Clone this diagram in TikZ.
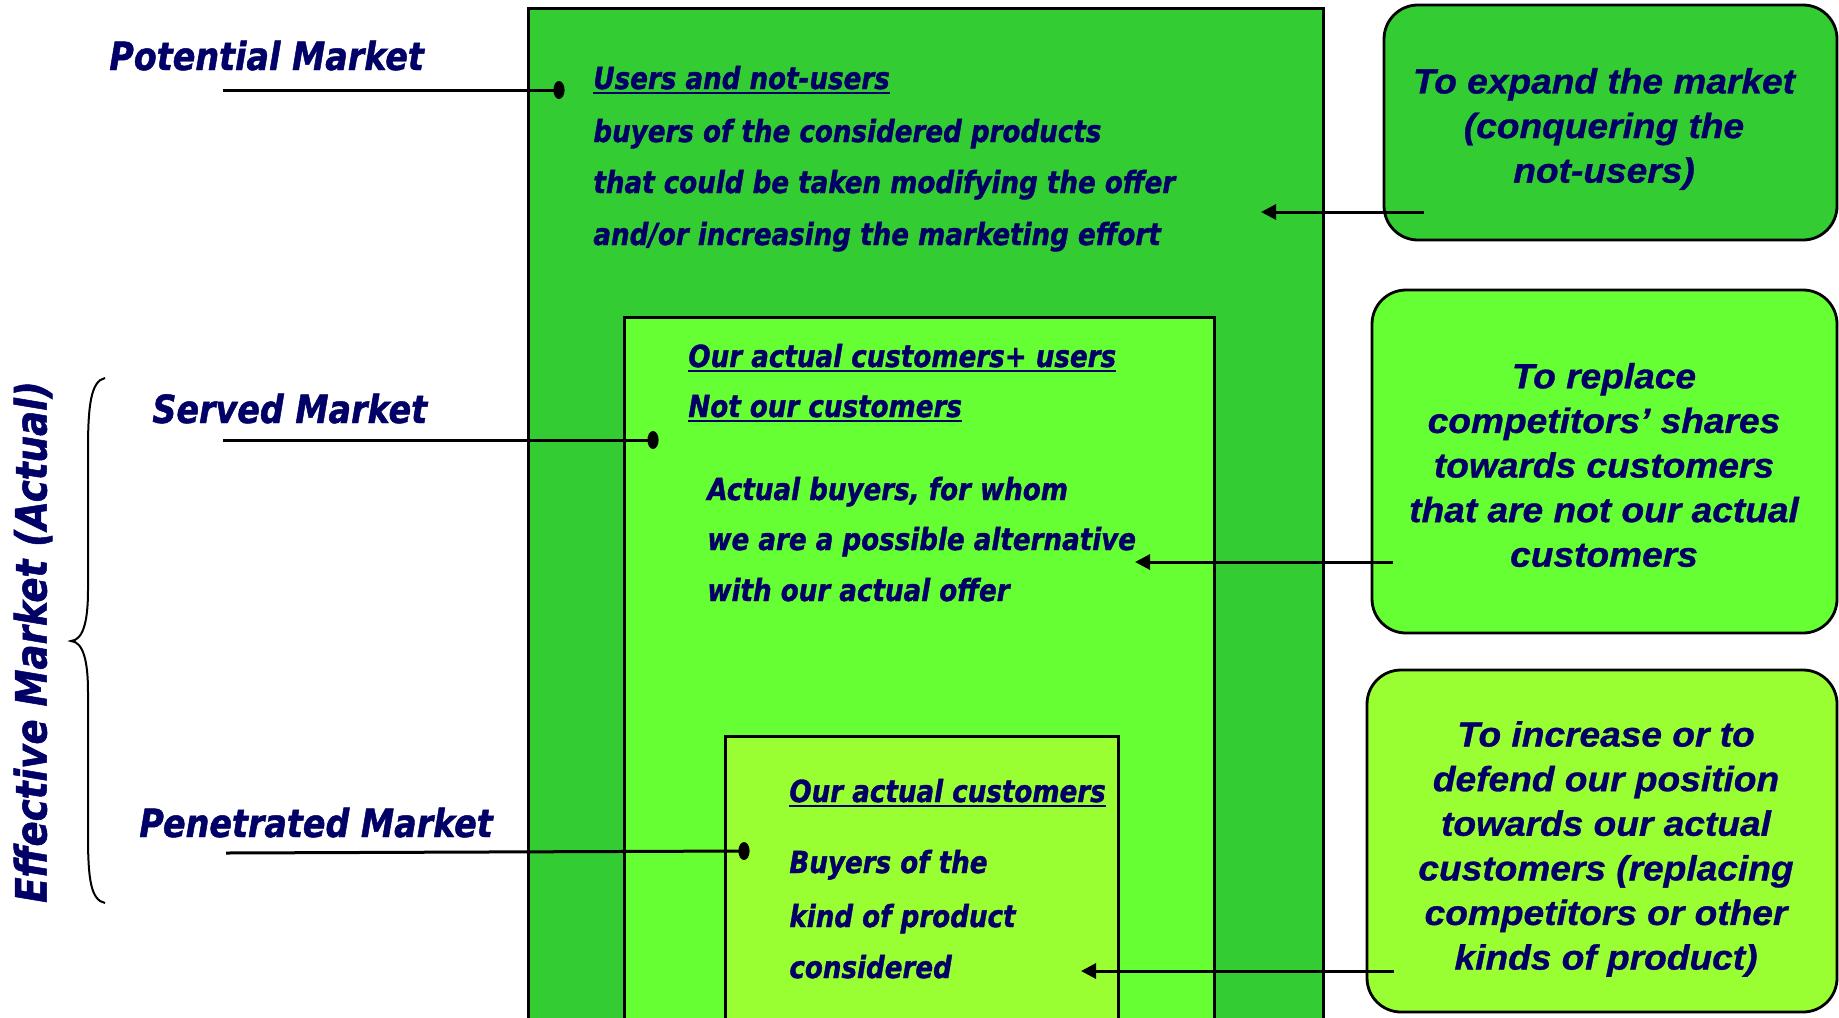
\documentclass[tikz,border=0pt]{standalone}
\usepackage{fontspec}
\usetikzlibrary{arrows.meta}
\newfontfamily\lblfont[FakeStretch=0.86,FakeBold=1.2]{DejaVu Sans}
\newfontfamily\goalfont[FakeStretch=1.06,FakeBold=0.9]{Liberation Sans}
\definecolor{navy}{HTML}{000066}
\definecolor{gdark}{HTML}{33CC33}
\definecolor{gmid}{HTML}{66FF33}
\definecolor{glight}{HTML}{99FF33}
% underline drawn as a rule of fixed weight
\newcommand\ulbar[1]{\setbox0=\hbox{#1}\rlap{\rule[-2.4pt]{\wd0}{0.9pt}}\box0}
\tikzset{
  marketbox/.style={draw=black, line width=1.5pt, inner sep=0pt},
  goalbox/.style={draw=black, line width=1.4pt, rounded corners=17pt, inner sep=0pt},
  goaltext/.style={font=\goalfont\bfseries\itshape\fontsize{17.5}{22.3}\selectfont, text=navy, align=center, inner sep=0pt},
  mktlabel/.style={font=\lblfont\bfseries\itshape\fontsize{19.4}{23}\selectfont, text=navy, inner sep=0pt},
  boxline/.style={font=\lblfont\bfseries\itshape\fontsize{15.2}{18}\selectfont, text=navy, inner sep=0pt, anchor=base west},
  leader/.style={line width=1.5pt},
  pointer/.style={line width=1.5pt, -{Triangle[length=7.5pt,width=7.5pt]}},
  dotend/.style={fill=black},
}
\begin{document}
\begin{tikzpicture}[x=0.5pt,y=-0.5pt]
\useasboundingbox (0,0) rectangle (1839,1017);
\clip (0,0) rectangle (1839,1017);

% nested market boxes
\node[marketbox, fill=gdark, minimum width=397.5pt, minimum height=516pt] (potbox) at (925.5,524) {};
\node[marketbox, fill=gmid, minimum width=295pt, minimum height=361.5pt] (srvbox) at (919,678.5) {};
\node[marketbox, fill=glight, minimum width=196.5pt, minimum height=152pt] (penbox) at (921.5,888) {};

% descriptions inside the boxes
\node[boxline] (p1) at (593,89) {\ulbar{Users and not-users}};
\node[boxline] (p2) at (593,142) {buyers of the considered products};
\node[boxline] (p3) at (593,193) {that could be taken modifying the offer};
\node[boxline] (p4) at (593,245) {and/or increasing the marketing effort};

\node[boxline] (s1) at (688,367) {\ulbar{Our actual customers+ users}};
\node[boxline] (s2) at (688,417) {\ulbar{Not our customers}};
\node[boxline] (s3) at (707,500) {Actual buyers, for whom};
\node[boxline] (s4) at (707,550) {we are a possible alternative};
\node[boxline] (s5) at (707,601) {with our actual offer};

\node[boxline] (n1) at (789,802) {\ulbar{Our actual customers}};
\node[boxline] (n2) at (789,873) {Buyers of the};
\node[boxline] (n3) at (789,927) {kind of product};
\node[boxline] (n4) at (789,978) {considered};

% market names on the left
\node[mktlabel, anchor=base west] (potlbl) at (109,70) {Potential Market};
\node[mktlabel, anchor=base west] (srvlbl) at (152,423) {Served Market};
\node[mktlabel, anchor=base west] (penlbl) at (139,837) {Penetrated Market};
\node[mktlabel, font=\lblfont\bfseries\itshape\fontsize{21.6}{25}\selectfont, rotate=90] (efflbl) at (33,642) {Effective Market (Actual)};

% brace grouping served and penetrated markets
\draw[line width=1pt] (105,378) .. controls (91,381) and (88,405) .. (88,450)
  -- (88,590) .. controls (88,622) and (83,640) .. (71,641)
  .. controls (83,642) and (88,660) .. (88,692)
  -- (88,835) .. controls (88,880) and (91,900) .. (105,903);

% leader lines with dot ends
\coordinate (potstart) at (223,90);
\coordinate (potdot) at (559,90);
\coordinate (srvstart) at (223,440);
\coordinate (srvdot) at (653,440);
\coordinate (penstart) at (226,853);
\coordinate (pendot) at (744,851);
\draw[leader] (potstart) -- (potdot);
\draw[leader] (srvstart) -- (srvdot);
\draw[leader] (penstart) -- (pendot);
\fill[dotend] (potdot) ellipse [x radius=2.8pt, y radius=4.5pt];
\fill[dotend] (srvdot) ellipse [x radius=2.8pt, y radius=4.5pt];
\fill[dotend] (pendot) ellipse [x radius=2.8pt, y radius=4.5pt];

% strategy boxes
\node[goalbox, fill=gdark, minimum width=226.5pt, minimum height=117.5pt] (goal1) at (1610.5,122.5) {};
\node[goalbox, fill=gmid, minimum width=232.5pt, minimum height=171.5pt] (goal2) at (1604.5,461.5) {};
\node[goalbox, fill=glight, minimum width=235pt, minimum height=171pt] (goal3) at (1602,841) {};
\node[goaltext] (goal1txt) at (1604,129) {To expand the market\\(conquering the\\not-users)};
\node[goaltext] (goal2txt) at (1604,465) {To replace\\competitors’ shares\\towards customers\\that are not our actual\\customers};
\node[goaltext] (goal3txt) at (1606,849) {To increase or to\\defend our position\\towards our actual\\customers (replacing\\competitors or other\\kinds of product)};

% arrows from strategies to markets
\coordinate (a1s) at (1424,212);
\coordinate (a1e) at (1261,212);
\coordinate (a2s) at (1393,562);
\coordinate (a2e) at (1135,562);
\coordinate (a3s) at (1394,971);
\coordinate (a3e) at (1081,971);
\draw[pointer] (a1s) -- (a1e);
\draw[pointer] (a2s) -- (a2e);
\draw[pointer] (a3s) -- (a3e);
\end{tikzpicture}
\end{document}
